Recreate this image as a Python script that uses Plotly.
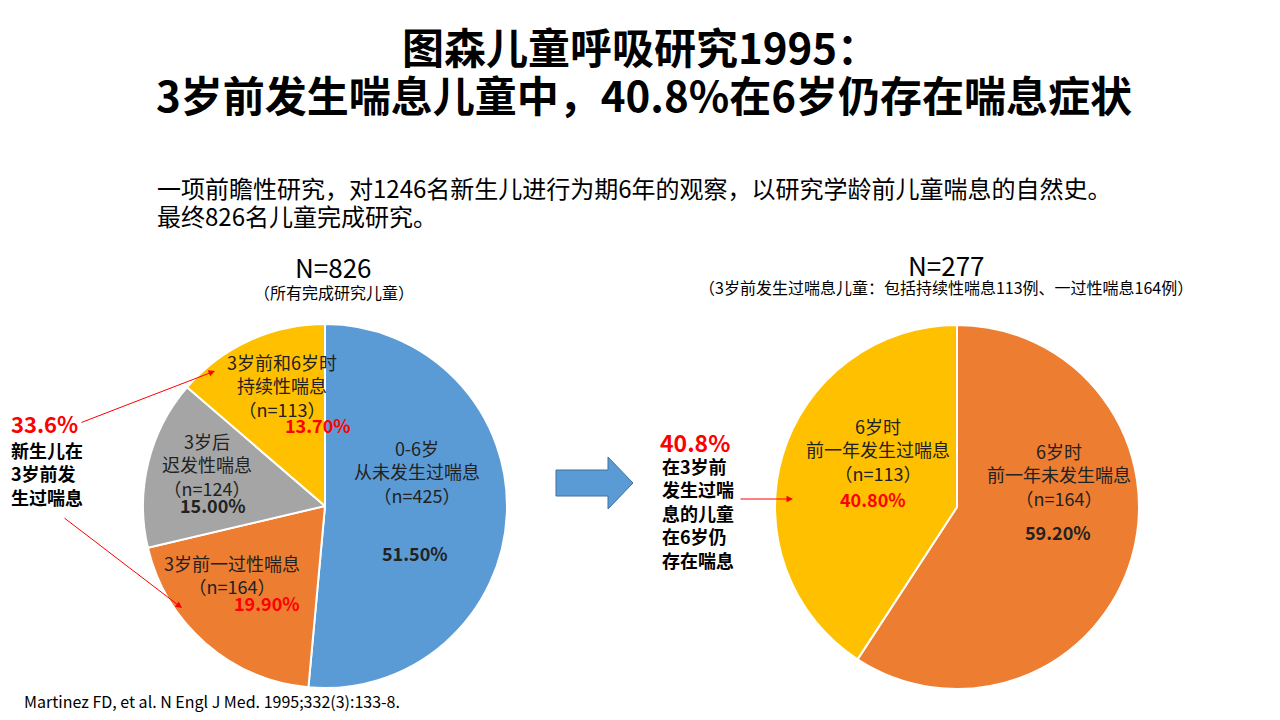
import plotly.graph_objects as go

# the page body has an 8px margin, so the figure is drawn a bit smaller and shifted
OFF = 8
W, H = 1280 - OFF * 2, 720 - OFF * 2

# left pie: all 826 children
left_labels = ["0-6岁<br>从未发生过喘息", "3岁前一过性喘息", "3岁后<br>迟发性喘息", "3岁前和6岁时<br>持续性喘息"]
left_counts = [425, 164, 124, 113]
left_colors = ["#5B9BD5", "#ED7D31", "#A5A5A5", "#FFC000"]
left_pct_red = [False, True, False, True]

# right pie: 277 children who wheezed before age 3
right_labels = ["6岁时<br>前一年未发生喘息", "6岁时<br>前一年发生过喘息"]
right_counts = [164, 113]
right_colors = ["#ED7D31", "#FFC000"]
right_pct_red = [False, True]

FONT = "Noto Sans CJK SC"
DARK = "#222222"


def px(x):
    return (x - OFF) / W


def py(y):
    return 1 - (y - OFF) / H


def pcts(counts):
    total = sum(counts)
    return [round(c / total * 100, 1) for c in counts]


fig = go.Figure()

fig.add_trace(go.Pie(
    values=left_counts,
    labels=[l.replace("<br>", "") for l in left_labels],
    marker=dict(colors=left_colors, line=dict(color="white", width=2)),
    sort=False, direction="clockwise", rotation=0,
    textinfo="none", hoverinfo="label+value+percent",
    domain=dict(x=[px(143), px(507)], y=[py(688), py(324)]),
))
fig.add_trace(go.Pie(
    values=right_counts,
    labels=[l.replace("<br>", "") for l in right_labels],
    marker=dict(colors=right_colors, line=dict(color="white", width=2)),
    sort=False, direction="clockwise", rotation=0,
    textinfo="none", hoverinfo="label+value+percent",
    domain=dict(x=[px(775), px(1139)], y=[py(689), py(325)]),
))

ann = []


def text(x, y, s, size, color=DARK, bold=False, xanchor="center", align="center"):
    ann.append(dict(
        x=px(x), y=py(y), xref="paper", yref="paper", text=("<b>%s</b>" % s) if bold else s,
        showarrow=False, xanchor=xanchor, yanchor="middle", align=align,
        font=dict(family=FONT, size=size, color=color),
    ))


def block(x, y_first, rows, size, color=DARK, bold=False, xanchor="center", step=22.5):
    # multi-line text, positioned by the centre of its first line
    yc = y_first + (len(rows) - 1) * step / 2
    align = "left" if xanchor == "left" else "center"
    s = "<br>".join(("<b>%s</b>" % r) if bold else r for r in rows)
    text(x, yc, s, size, color, False, xanchor, align)


def arrow(x0, y0, x1, y1, color="#FF0000"):
    ann.append(dict(
        x=px(x1), y=py(y1), xref="paper", yref="paper", ax=x0 - x1, ay=y0 - y1,
        text="", showarrow=True, arrowhead=2, arrowsize=1.3, arrowwidth=1, arrowcolor=color,
    ))


# title and intro
text(640, 45, "图森儿童呼吸研究1995：", 42, "black", bold=True)
text(644, 93, "3岁前发生喘息儿童中，40.8%在6岁仍存在喘息症状", 42, "black", bold=True)
text(155, 188, "一项前瞻性研究，对1246名新生儿进行为期6年的观察，以研究学龄前儿童喘息的自然史。", 24, "black",
     xanchor="left")
text(155, 216, "最终826名儿童完成研究。", 24, "black", xanchor="left")

# pie headers
text(333, 266, "N=%d" % sum(left_counts), 26, "black")
text(334, 292, "（所有完成研究儿童）", 16, "black")
text(946, 264, "N=%d" % sum(right_counts), 26, "black")
text(946, 287, "（3岁前发生过喘息儿童：包括持续性喘息%d例、一过性喘息%d例）" % (right_counts[1], right_counts[0]),
     16, "black")

# slice labels
left_label_pos = [(417, 449), (232, 563), (207, 442), (282, 363)]
left_pct_pos = [(415, 553), (267, 603), (213, 505), (318, 425)]
for lab, n, p, red, (lx, ly), (qx, qy) in zip(left_labels, left_counts, pcts(left_counts), left_pct_red,
                                                left_label_pos, left_pct_pos):
    block(lx, ly, lab.split("<br>") + ["（n=%d）" % n], 18)
    text(qx, qy, "%.2f%%" % p, 18, "#FF0000" if red else DARK, bold=True)

right_label_pos = [(1059, 452), (878, 427)]
right_pct_pos = [(1058, 532), (873, 499)]
for lab, n, p, red, (lx, ly), (qx, qy) in zip(right_labels, right_counts, pcts(right_counts), right_pct_red,
                                                right_label_pos, right_pct_pos):
    block(lx, ly, lab.split("<br>") + ["（n=%d）" % n], 18)
    text(qx, qy, "%.2f%%" % p, 18, "#FF0000" if red else DARK, bold=True)

# side callouts
lp = pcts(left_counts)
text(9, 423, "%.1f%%" % (lp[1] + lp[3]), 22, "#FF0000", bold=True, xanchor="left")
block(9, 450, ["新生儿在", "3岁前发", "生过喘息"], 18, "black", bold=True, xanchor="left", step=23)
arrow(80, 423, 215, 371)
arrow(63, 517, 182, 608)

text(658, 442, "%.1f%%" % pcts(right_counts)[1], 23, "#FF0000", bold=True, xanchor="left")
block(660, 468, ["在3岁前", "发生过喘", "息的儿童", "在6岁仍", "存在喘息"], 18, "black", bold=True,
      xanchor="left", step=22.4)
arrow(739, 499, 793, 499)

text(22, 701, "Martinez FD, et al. N Engl J Med. 1995;332(3):133-8.", 16, "black", xanchor="left")

# big blue arrow between the pies
pts = [(556, 470), (608, 470), (608, 457), (633, 483), (608, 509), (608, 496), (556, 496)]
path = "M " + " L ".join("%f,%f" % (px(x), py(y)) for x, y in pts) + " Z"
shapes = [dict(type="path", xref="paper", yref="paper", path=path,
               fillcolor="#5B9BD5", line=dict(color="#41719C", width=1))]

fig.update_layout(
    width=W, height=H, margin=dict(l=0, r=0, t=0, b=0),
    paper_bgcolor="white", plot_bgcolor="white",
    showlegend=False, annotations=ann, shapes=shapes,
    font=dict(family=FONT),
)
fig.write_html("out.html")
